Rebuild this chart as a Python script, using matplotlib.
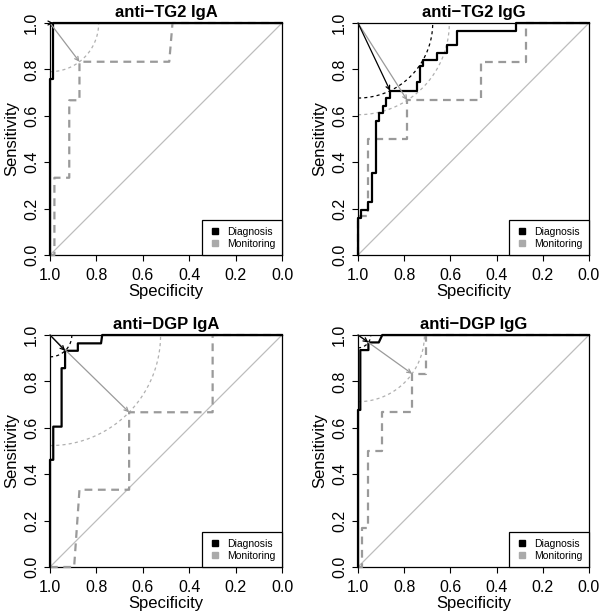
import matplotlib
matplotlib.use("Agg")
import matplotlib.pyplot as plt
from matplotlib.lines import Line2D
import numpy as np

plt.rcParams["font.family"] = ["Liberation Sans", "DejaVu Sans"]

titles = ["anti\u2212TG2 IgA", "anti\u2212TG2 IgG", "anti\u2212DGP IgA", "anti\u2212DGP IgG"]

# ROC curves: (specificity, sensitivity)
diag_spec = [
    [1, 1, 0.986, 0.986, 0],
    [1, 1, 0.986, 0.986, 0.957, 0.957, 0.938, 0.938, 0.922, 0.922, 0.908, 0.908,
     0.893, 0.893, 0.879, 0.879, 0.861, 0.861, 0.746, 0.746, 0.732, 0.732, 0.720,
     0.720, 0.659, 0.659, 0.616, 0.616, 0.570, 0.570, 0.316, 0.316, 0],
    [1, 1, 0.986, 0.986, 0.950, 0.950, 0.935, 0.935, 0.880, 0.880, 0.780, 0.775, 0],
    [1, 1, 0.990, 0.990, 0.955, 0.955, 0.910, 0.895, 0],
]
diag_sens = [
    [0, 0.76, 0.76, 1, 1],
    [0, 0.158, 0.158, 0.194, 0.194, 0.227, 0.227, 0.355, 0.355, 0.579, 0.579, 0.611,
     0.611, 0.642, 0.642, 0.675, 0.675, 0.708, 0.708, 0.744, 0.744, 0.815, 0.815,
     0.839, 0.839, 0.872, 0.872, 0.905, 0.905, 0.967, 0.967, 1, 1],
    [0, 0.462, 0.462, 0.605, 0.605, 0.857, 0.857, 0.932, 0.932, 0.964, 0.964, 1, 1],
    [0, 0.677, 0.677, 0.935, 0.935, 0.968, 0.968, 1, 1],
]
mon_spec = [
    [1, 0.981, 0.981, 0.917, 0.917, 0.873, 0.873, 0.486, 0.472, 0],
    [1, 1, 0.957, 0.957, 0.787, 0.787, 0.469, 0.469, 0.274, 0.274, 0],
    [1, 0.896, 0.873, 0.659, 0.659, 0.299, 0.299, 0],
    [1, 0.983, 0.983, 0.958, 0.958, 0.897, 0.897, 0.766, 0.766, 0.704, 0.704, 0],
]
mon_sens = [
    [0, 0, 0.333, 0.333, 0.667, 0.667, 0.833, 0.833, 1, 1],
    [0, 0.167, 0.167, 0.5, 0.5, 0.667, 0.667, 0.833, 0.833, 1, 1],
    [0, 0, 0.333, 0.333, 0.667, 0.667, 1, 1],
    [0, 0, 0.167, 0.167, 0.5, 0.5, 0.667, 0.667, 0.833, 0.833, 1, 1],
]

# best thresholds (closest to top-left)
diag_best = [(0.986, 1.0), (0.861, 0.708), (0.935, 0.932), (0.955, 0.968)]
mon_best = [(0.873, 0.833), (0.787, 0.667), (0.659, 0.667), (0.766, 0.833)]

ticks = [0.0, 0.2, 0.4, 0.6, 0.8, 1.0]
tick_labels = ["0.0", "0.2", "0.4", "0.6", "0.8", "1.0"]

dark = "black"
light = "#9a9a9a"

fig = plt.figure(figsize=(6.0, 6.16), dpi=100)
positions = [
    [50 / 600, 1 - 255 / 616, 232 / 600, 232 / 616],
    [358 / 600, 1 - 255 / 616, 231 / 600, 232 / 616],
    [50 / 600, 1 - 567 / 616, 232 / 600, 232 / 616],
    [358 / 600, 1 - 567 / 616, 231 / 600, 232 / 616],
]


def best_marks(ax, best, color, arc_color):
    s, e = best
    r = np.hypot(1 - s, 1 - e)
    t = np.linspace(0, np.pi / 2, 60)
    ax.plot(1 - r * np.sin(t), 1 - r * np.cos(t), color=arc_color, lw=0.9,
            linestyle=(0, (2.5, 2.5)), clip_on=True, zorder=2)
    ax.annotate("", xy=(s, e), xytext=(1, 1),
                arrowprops=dict(arrowstyle="->", color=color, lw=0.9,
                                mutation_scale=7, shrinkA=0, shrinkB=0),
                zorder=4)


for i in range(4):
    ax = fig.add_axes(positions[i])
    ax.set_xlim(1, 0)
    ax.set_ylim(0, 1)

    ax.plot([1, 0], [0, 1], color="#bdbdbd", lw=0.9, zorder=1)

    ax.plot(mon_spec[i], mon_sens[i], color=light, lw=1.6,
            linestyle=(0, (3.5, 2.5)), clip_on=False, zorder=3)
    ax.plot(diag_spec[i], diag_sens[i], color=dark, lw=1.6, clip_on=False, zorder=3)

    best_marks(ax, mon_best[i], light, "#b0b0b0")
    best_marks(ax, diag_best[i], dark, "black")

    ax.set_xticks(ticks)
    ax.set_xticklabels(tick_labels)
    ax.set_yticks(ticks)
    ax.set_yticklabels(tick_labels, rotation=90, va="center")
    ax.tick_params(direction="out", length=4, width=0.8, labelsize=11.5, pad=4)
    ax.tick_params(axis="x", pad=5)
    for sp in ax.spines.values():
        sp.set_linewidth(0.9)

    ax.set_xlabel("Specificity", fontsize=12, labelpad=1)
    ax.set_ylabel("Sensitivity", fontsize=12, labelpad=3)
    ax.set_title(titles[i], fontsize=12, fontweight="bold", pad=4)

    handles = [
        Line2D([], [], linestyle="", marker="s", markersize=5, color=dark),
        Line2D([], [], linestyle="", marker="s", markersize=5, color="#aaaaaa"),
    ]
    leg = ax.legend(handles, ["Diagnosis", "Monitoring"], loc="lower right",
                    borderaxespad=0, fancybox=False, edgecolor="black",
                    framealpha=1, fontsize=7.5, handlelength=1.2,
                    handletextpad=0.6, borderpad=0.6, labelspacing=0.2)
    leg.get_frame().set_linewidth(0.9)

fig.savefig("out.png", dpi=100)
